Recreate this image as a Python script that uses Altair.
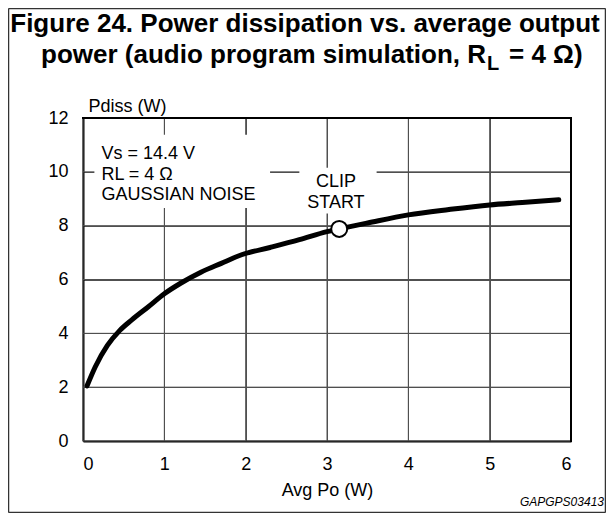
import altair as alt
import pandas as pd

# ---- data ----
po = [0.05, 0.15, 0.3, 0.45, 0.6, 0.8, 1.0, 1.2, 1.45, 1.7, 1.95, 2.3, 2.66, 3.0,
      3.15, 3.5, 4.0, 4.5, 5.0, 5.4, 5.85]
pdiss = [2.05, 2.75, 3.55, 4.1, 4.5, 4.98, 5.47, 5.86, 6.27, 6.6, 6.92, 7.19, 7.48, 7.78,
         7.88, 8.1, 8.4, 8.6, 8.77, 8.86, 8.96]
clip_x = [3.15]
clip_y = [7.88]
x_ticks = [0, 1, 2, 3, 4, 5, 6]
y_ticks = [0, 2, 4, 6, 8, 10, 12]

note_lines = ["Vs = 14.4 V", "RL = 4 Ω", "GAUSSIAN NOISE"]
note_x = [0.226, 0.226, 0.226]
note_y = [10.49, 9.70, 8.96]
clip_lines = ["CLIP", "START"]
clip_lx = [3.11, 3.11]
clip_ly = [9.45, 8.65]
# white backgrounds behind the annotations (data units)
box_x = [0.14, 2.66]
box_x2 = [2.30, 3.61]
box_y = [8.66, 8.45]
box_y2 = [11.38, 10.15]

title1 = "Figure 24. Power dissipation vs. average output"
title2a = "power (audio program simulation, R"
title2b = "L"
title2c = "= 4 Ω)"
code = "GAPGPS03413"

FONT = "Liberation Sans, Arial, Helvetica, sans-serif"
W, H = 488, 323

xs = alt.Scale(domain=[0, 6], nice=False)
ys = alt.Scale(domain=[0, 12], nice=False)

curve_df = pd.DataFrame({"x": po, "y": pdiss})
clip_df = pd.DataFrame({"x": clip_x, "y": clip_y})
notes_df = pd.DataFrame({"x": note_x, "y": note_y, "t": note_lines})
cliplab_df = pd.DataFrame({"x": clip_lx, "y": clip_ly, "t": clip_lines})
box_df = pd.DataFrame({"x": box_x, "x2": box_x2, "y": box_y, "y2": box_y2})
vgrid_df = pd.DataFrame({"x": x_ticks})
hgrid_df = pd.DataFrame({"y": y_ticks})

AX = dict(grid=True, gridColor="#505050", gridWidth=1, gridOpacity=1,
          tickSize=0, labelFont=FONT, labelFontSize=18, labelColor="black",
          titleFont=FONT, titleFontSize=18, titleFontWeight="normal", titleColor="black",
          domainColor="black", domainWidth=2, format="d")

x_axis = alt.Axis(values=x_ticks, title="Avg Po (W)", labelPadding=28,
                  labelBaseline="alphabetic", titleY=54,
                  titleBaseline="alphabetic", **AX)
y_axis = alt.Axis(values=y_ticks, title="Pdiss (W)", labelPadding=15,
                  titleAngle=0, titleX=5, titleY=-7,
                  titleAlign="left", titleBaseline="alphabetic", **AX)


def X():
    return alt.X("x:Q", scale=xs)


def Y():
    return alt.Y("y:Q", scale=ys)


vgrid = alt.Chart(vgrid_df).mark_rule(color="#505050", strokeWidth=1).encode(
    x=X(), y=alt.value(0), y2=alt.value(H)
)
hgrid = alt.Chart(hgrid_df).mark_rule(color="#505050", strokeWidth=1).encode(
    y=Y(), x=alt.value(0), x2=alt.value(W)
)

boxes = alt.Chart(box_df).mark_rect(color="white").encode(
    x=X(), x2="x2:Q", y=Y(), y2="y2:Q",
)

curve = alt.Chart(curve_df).mark_line(
    color="black", strokeWidth=5, interpolate="monotone", strokeCap="round"
).encode(
    x=alt.X("x:Q", scale=xs, axis=x_axis, title="Avg Po (W)"),
    y=alt.Y("y:Q", scale=ys, axis=y_axis, title="Pdiss (W)"),
)

clip_pt = alt.Chart(clip_df).mark_point(
    shape="circle", size=256, filled=True, fill="white", stroke="black",
    strokeWidth=2, opacity=1
).encode(x=X(), y=Y())

notes = alt.Chart(notes_df).mark_text(
    align="left", baseline="alphabetic", font=FONT, fontSize=18, color="black"
).encode(x=X(), y=Y(), text="t:N")

clip_text = alt.Chart(cliplab_df).mark_text(
    align="center", baseline="alphabetic", font=FONT, fontSize=18, color="black"
).encode(x=X(), y=Y(), text="t:N")


def label(txt, x, y, size, align="left", weight="normal", style="normal"):
    return alt.Chart(pd.DataFrame({"t": [txt]})).mark_text(
        align=align, baseline="alphabetic", font=FONT, fontSize=size,
        fontWeight=weight, fontStyle=style, color="black"
    ).encode(x=alt.value(x), y=alt.value(y), text="t:N")


t1 = label(title1, 222, -86, 26, align="center", weight="bold")
t2a = label(title2a, 403, -55, 26, align="right", weight="bold")
t2b = label(title2b, 404, -48, 20, align="left", weight="bold")
t2c = label(title2c, 426, -55, 26, align="left", weight="bold")
t_code = label(code, 521, 388, 12, align="right", style="italic")

one = pd.DataFrame({"k": [0]})


def hline(y, x0, x1, **kw):
    return alt.Chart(one).mark_rule(**kw).encode(
        x=alt.value(x0), x2=alt.value(x1), y=alt.value(y))


def vline(x, y0, y1, **kw):
    return alt.Chart(one).mark_rule(**kw).encode(
        y=alt.value(y0), y2=alt.value(y1), x=alt.value(x))


FX0, FX1, FY0, FY1 = -74.5, 522.5, -109.5, 394.5
FR = dict(color="#333333", strokeWidth=1.5)
BR = dict(color="black", strokeWidth=2)
frame = alt.layer(
    hline(FY0, FX0, FX1, **FR), hline(FY1, FX0, FX1, **FR),
    vline(FX0, FY0, FY1, **FR), vline(FX1, FY0, FY1, **FR),
    hline(0, -1, W + 1, **BR), vline(W, -1, H + 1, **BR),
)

chart = alt.layer(
    vgrid, hgrid, boxes, curve, clip_pt, notes, clip_text,
    t1, t2a, t2b, t2c, t_code, frame
).properties(
    width=W, height=H,
    padding={"left": 75, "top": 110, "right": 35, "bottom": 72},
    autosize=alt.AutoSizeParams(type="none"),
).configure_view(strokeWidth=0)

chart.save("out.html", embed_options={"renderer": "svg", "actions": False})
